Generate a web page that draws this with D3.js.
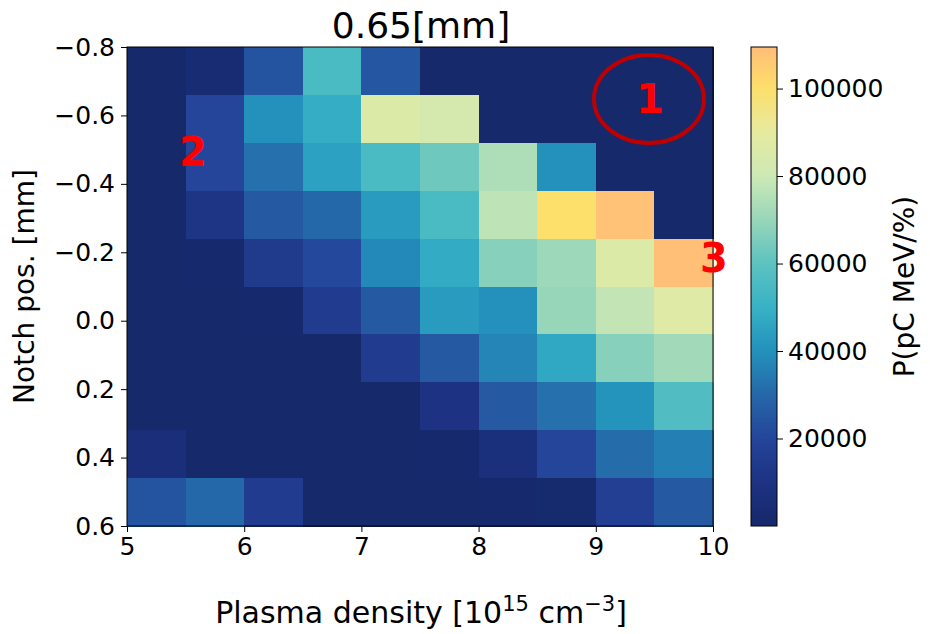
<!DOCTYPE html>
<html>
<head>
<meta charset="utf-8">
<script src="https://cdn.jsdelivr.net/npm/d3@7"></script>
<style>
  body { margin: 0; background: #fff; }
  svg text { font-family: "DejaVu Sans", sans-serif; fill: #000; }
</style>
</head>
<body>
<div id="notch-chart"></div>
<script>
// plasma density bin centres [10^15 cm^-3]
const densities = [5.25, 5.75, 6.25, 6.75, 7.25, 7.75, 8.25, 8.75, 9.25, 9.75];
// notch position bin centres [mm], top to bottom
const notchPos = [-0.73, -0.59, -0.45, -0.31, -0.17, -0.03, 0.11, 0.25, 0.39, 0.53];
// P(pC MeV/%) per row of notchPos, one value per density
const row0 = [500, 4000, 24000, 55000, 25000, 500, 500, 500, 500, 500];
const row1 = [500, 20000, 40000, 49000, 86000, 83000, 500, 500, 500, 500];
const row2 = [500, 20000, 32000, 45000, 55000, 63000, 74000, 40000, 500, 500];
const row3 = [500, 11000, 26000, 30000, 43000, 55000, 77000, 100000, 108000, 500];
const row4 = [500, 800, 14000, 21000, 38000, 48000, 67000, 71000, 86000, 109000];
const row5 = [500, 500, 1200, 15000, 26000, 43000, 40000, 70000, 78000, 87000];
const row6 = [500, 500, 500, 500, 15000, 26000, 37000, 47000, 67000, 72000];
const row7 = [500, 500, 500, 500, 500, 10000, 26000, 32000, 41000, 57000];
const row8 = [6000, 500, 500, 500, 500, 800, 8000, 20000, 31000, 36000];
const row9 = [24000, 30000, 15000, 500, 500, 500, 1200, 1800, 17000, 26000];
const rows = [row0, row1, row2, row3, row4, row5, row6, row7, row8, row9];

const xTicks = [5, 6, 7, 8, 9, 10];
const yTicks = [-0.8, -0.6, -0.4, -0.2, 0.0, 0.2, 0.4, 0.6];
const cbTicks = [20000, 40000, 60000, 80000, 100000];
const vMin = 0, vMax = 109500;

const width = 930, height = 634;
const margin = { top: 47, right: 217, bottom: 108, left: 127 };
const plotW = width - margin.left - margin.right;
const plotH = height - margin.top - margin.bottom;

const svg = d3.select('#notch-chart').append('svg')
  .attr('width', width).attr('height', height);

const x = d3.scaleLinear().domain([5, 10]).range([margin.left, margin.left + plotW]);
const y = d3.scaleLinear().domain([-0.8, 0.6]).range([margin.top, margin.top + plotH]);
const halfX = 0.25, halfY = 0.07;

// custom colormap: navy -> blue -> teal -> pale green -> yellow -> orange
const cmapColors = ['#15286a', '#1d3282', '#24449a', '#2568a9', '#2391bc', '#37b1c6',
  '#5dc3c0', '#98d6ba', '#cde9b5', '#e6eaa0', '#fddf6a', '#ffbd78'];
const cmapFrac = [0, 0.09, 0.18, 0.275, 0.365, 0.455, 0.55, 0.64, 0.73, 0.82, 0.915, 1];
const color = d3.scaleLinear()
  .domain(cmapFrac.map(f => vMin + f * (vMax - vMin)))
  .range(cmapColors)
  .interpolate(d3.interpolateRgb)
  .clamp(true);

const cells = [];
rows.forEach((r, i) => r.forEach((v, j) => cells.push({ d: densities[j], n: notchPos[i], v })));

svg.append('g').attr('shape-rendering', 'crispEdges').selectAll('rect')
  .data(cells)
  .enter().append('rect')
  .attr('x', c => x(c.d - halfX))
  .attr('y', c => y(c.n - halfY))
  .attr('width', c => x(c.d + halfX) - x(c.d - halfX) + 0.5)
  .attr('height', c => y(c.n + halfY) - y(c.n - halfY) + 0.5)
  .attr('fill', c => color(c.v));

// frame
svg.append('rect')
  .attr('x', margin.left).attr('y', margin.top)
  .attr('width', plotW).attr('height', plotH)
  .attr('fill', 'none').attr('stroke', '#000').attr('stroke-width', 1);

// axes
const xAxis = d3.axisBottom(x).tickValues(xTicks).tickFormat(d3.format('d'))
  .tickSize(6).tickPadding(5).tickSizeOuter(0);
const yAxis = d3.axisLeft(y).tickValues(yTicks).tickFormat(d3.format('.1f'))
  .tickSize(6).tickPadding(6).tickSizeOuter(0);

const gx = svg.append('g').attr('transform', `translate(0,${margin.top + plotH})`).call(xAxis);
const gy = svg.append('g').attr('transform', `translate(${margin.left},0)`).call(yAxis);
[gx, gy].forEach(g => {
  g.select('.domain').remove();
  g.selectAll('line').attr('stroke', '#000');
  g.selectAll('text').style('font-size', '25px').style('font-family', '"DejaVu Sans", sans-serif');
});

// title and labels
svg.append('text')
  .attr('x', margin.left + plotW / 2 + 1).attr('y', 38)
  .attr('text-anchor', 'middle').style('font-size', '36px')
  .text('0.65[mm]');

const xl = svg.append('text')
  .attr('x', margin.left + plotW / 2 + 1).attr('y', 623)
  .attr('text-anchor', 'middle').style('font-size', '30px');
xl.append('tspan').text('Plasma density [10');
xl.append('tspan').attr('dy', -12).style('font-size', '21px').text('15');
xl.append('tspan').attr('dy', 12).text(' cm');
xl.append('tspan').attr('dy', -12).style('font-size', '21px').text('\u22123');
xl.append('tspan').attr('dy', 12).text(']');

svg.append('text')
  .attr('transform', `translate(34,${margin.top + plotH / 2}) rotate(-90)`)
  .attr('text-anchor', 'middle').style('font-size', '28px')
  .text('Notch pos. [mm]');

// colorbar
const cbX = 751, cbW = 26;
const cbY = d3.scaleLinear().domain([vMin, vMax]).range([margin.top + plotH, margin.top]);
const defs = svg.append('defs');
const grad = defs.append('linearGradient').attr('id', 'cbgrad')
  .attr('x1', 0).attr('y1', 1).attr('x2', 0).attr('y2', 0);
d3.range(0, 1.0001, 0.02).forEach(t => {
  grad.append('stop').attr('offset', t).attr('stop-color', color(vMin + t * (vMax - vMin)));
});
svg.append('rect')
  .attr('x', cbX).attr('y', margin.top).attr('width', cbW).attr('height', plotH)
  .attr('fill', 'url(#cbgrad)').attr('stroke', '#000').attr('stroke-width', 1);

const cbAxis = d3.axisRight(cbY).tickValues(cbTicks).tickFormat(d3.format('d'))
  .tickSize(6).tickPadding(5).tickSizeOuter(0);
const gc = svg.append('g').attr('transform', `translate(${cbX + cbW},0)`).call(cbAxis);
gc.select('.domain').remove();
gc.selectAll('line').attr('stroke', '#000');
gc.selectAll('text').style('font-size', '25px').style('font-family', '"DejaVu Sans", sans-serif');

svg.append('text')
  .attr('transform', `translate(914,${margin.top + plotH / 2}) rotate(-90)`)
  .attr('text-anchor', 'middle').style('font-size', '28px')
  .text('P(pC MeV/%)');

// annotations
svg.append('ellipse')
  .attr('cx', 649).attr('cy', 99).attr('rx', 55).attr('ry', 44)
  .attr('fill', 'none').attr('stroke', '#c00000').attr('stroke-width', 4);
const notes = [
  { t: '1', x: 650, y: 113 },
  { t: '2', x: 193, y: 166 },
  { t: '3', x: 714, y: 272 }
];
svg.append('g').selectAll('text')
  .data(notes)
  .enter().append('text')
  .attr('x', d => d.x).attr('y', d => d.y)
  .attr('text-anchor', 'middle')
  .style('font-size', '40px').style('font-weight', 'bold')
  .style('fill', '#ff0000')
  .text(d => d.t);
</script>
</body>
</html>
